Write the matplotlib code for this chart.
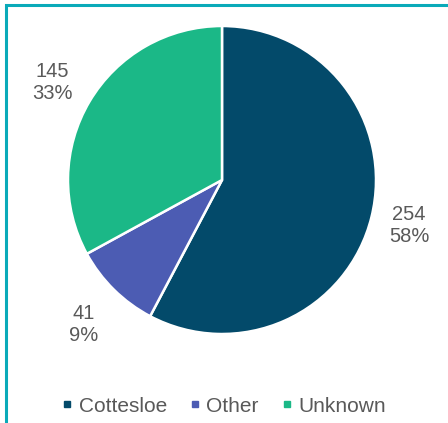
import numpy as np
import matplotlib.pyplot as plt
from matplotlib.lines import Line2D
from matplotlib.patches import Rectangle

plt.rcParams['font.family'] = ['Liberation Sans', 'DejaVu Sans']

categories = ['Cottesloe', 'Other', 'Unknown']
counts = [254, 41, 145]
percents = ['58%', '9%', '33%']
colors = ['#034a6a', '#4c5cb3', '#1bb887']

W, H = 448, 423
fig = plt.figure(figsize=(W / 100, H / 100), dpi=100)
ax = fig.add_axes([0, 0, 1, 1])

cx, cy, r = 222, 243, 154
wedges, _ = ax.pie(counts, colors=colors, startangle=90, counterclock=False,
                   center=(cx, cy), radius=r, frame=True,
                   wedgeprops=dict(edgecolor='white', linewidth=1.8))
ax.set_xlim(0, W)
ax.set_ylim(0, H)
ax.axis('off')

# label placement (angle in degrees, distance in radii)
label_pos = [(-13.7, 1.25), (-133.8, 1.30), (150.0, 1.27)]
for n, p, (ang, d) in zip(counts, percents, label_pos):
    a = np.deg2rad(ang)
    ax.text(cx + d * r * np.cos(a), cy + d * r * np.sin(a), f'{n}\n{p}',
            ha='center', va='center', fontsize=14.5, color='#595959',
            linespacing=1.2)

handles = [Line2D([], [], marker='s', linestyle='none', markersize=5,
                  markerfacecolor=c, markeredgecolor=c) for c in colors]
fig.legend(handles, categories, loc='center', bbox_to_anchor=(0.5, 17 / H),
           ncol=3, frameon=False, fontsize=15, labelcolor='#595959',
           handlelength=0.5, handletextpad=0.3, columnspacing=1.1)

fig.add_artist(Rectangle((6 / W, -0.1), 1.2, (H - 5.5) / H + 0.1,
                         transform=fig.transFigure, fill=False,
                         edgecolor='#0aaab9', linewidth=2.2))

fig.savefig('out.png', dpi=100)
